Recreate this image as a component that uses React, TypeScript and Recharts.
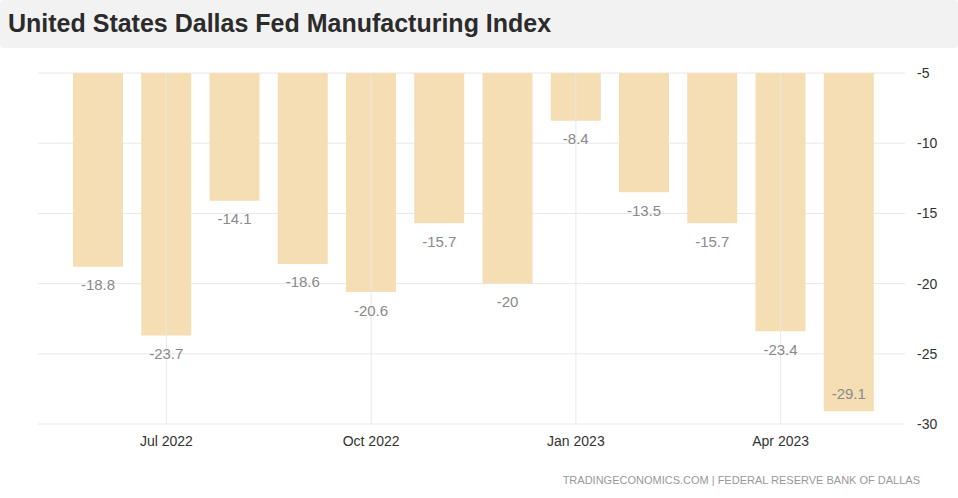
import { BarChart, Bar, XAxis, YAxis, CartesianGrid, LabelList, ReferenceLine } from 'recharts';

const months = [
  'Jun 2022', 'Jul 2022', 'Aug 2022', 'Sep 2022', 'Oct 2022', 'Nov 2022',
  'Dec 2022', 'Jan 2023', 'Feb 2023', 'Mar 2023', 'Apr 2023', 'May 2023',
];
const values = [-18.8, -23.7, -14.1, -18.6, -20.6, -15.7, -20, -8.4, -13.5, -15.7, -23.4, -29.1];
const xTicks = ['Jul 2022', 'Oct 2022', 'Jan 2023', 'Apr 2023'];
const yTicks = [-30, -25, -20, -15, -10, -5];

const data = months.map((m, i) => ({ month: m, value: values[i] }));

const PLOT_BOTTOM = 424;

// labels sit under the bar, or inside it when there is no room left
function ValueLabel(props: any) {
  const { x, y, width, height, value } = props;
  const bottom = Math.max(y, y + height);
  const below = bottom + 18;
  const cy = below + 10 > PLOT_BOTTOM ? bottom - 18 : below;
  return (
    <text
      x={x + width / 2}
      y={cy}
      textAnchor="middle"
      dominantBaseline="central"
      fill="#8a8a8a"
      fontSize={15}
      fontFamily="Arial, 'Liberation Sans', sans-serif"
    >
      {value}
    </text>
  );
}

export default function App() {
  return (
    <div style={{ position: 'fixed', left: 0, top: 0, width: 958, height: 498, background: '#fff', fontFamily: "Arial, 'Liberation Sans', sans-serif" }}>
      <div style={{ position: 'absolute', left: 0, top: 0, width: 958, height: 48, background: '#f2f2f2', borderRadius: 4 }}>
        <div style={{ position: 'absolute', left: 8, top: 9, fontSize: 25, fontWeight: 'bold', color: '#2b2b2b', whiteSpace: 'nowrap' }}>
          United States Dallas Fed Manufacturing Index
        </div>
      </div>
      <div style={{ position: 'absolute', left: 0, top: 0 }}>
        <BarChart width={958} height={498} data={data} margin={{ top: 73, right: 0, left: 38, bottom: 44 }}>
          <CartesianGrid stroke="#e8e8e8" vertical={false} />
          {xTicks.map((t) => (
            <ReferenceLine key={t} x={t} stroke="#e8e8e8" />
          ))}
          <XAxis
            dataKey="month"
            ticks={xTicks}
            interval={0}
            height={30}
            padding={{ left: 26, right: 22 }}
            axisLine={false}
            tickLine={false}
            tickMargin={6}
            tick={{ fill: '#333', fontSize: 14 }}
          />
          <YAxis
            orientation="right"
            domain={[-30, -5]}
            ticks={yTicks}
            width={53}
            axisLine={false}
            tickLine={false}
            tickMargin={6}
            tick={{ fill: '#333', fontSize: 14 }}
          />
          <Bar dataKey="value" fill="#f5deb3" barSize={50} isAnimationActive={false}>
            <LabelList dataKey="value" content={ValueLabel} />
          </Bar>
        </BarChart>
      </div>
      <div style={{ position: 'absolute', right: 38, top: 474, fontSize: 11, color: '#999', whiteSpace: 'nowrap' }}>
        TRADINGECONOMICS.COM | FEDERAL RESERVE BANK OF DALLAS
      </div>
    </div>
  );
}
